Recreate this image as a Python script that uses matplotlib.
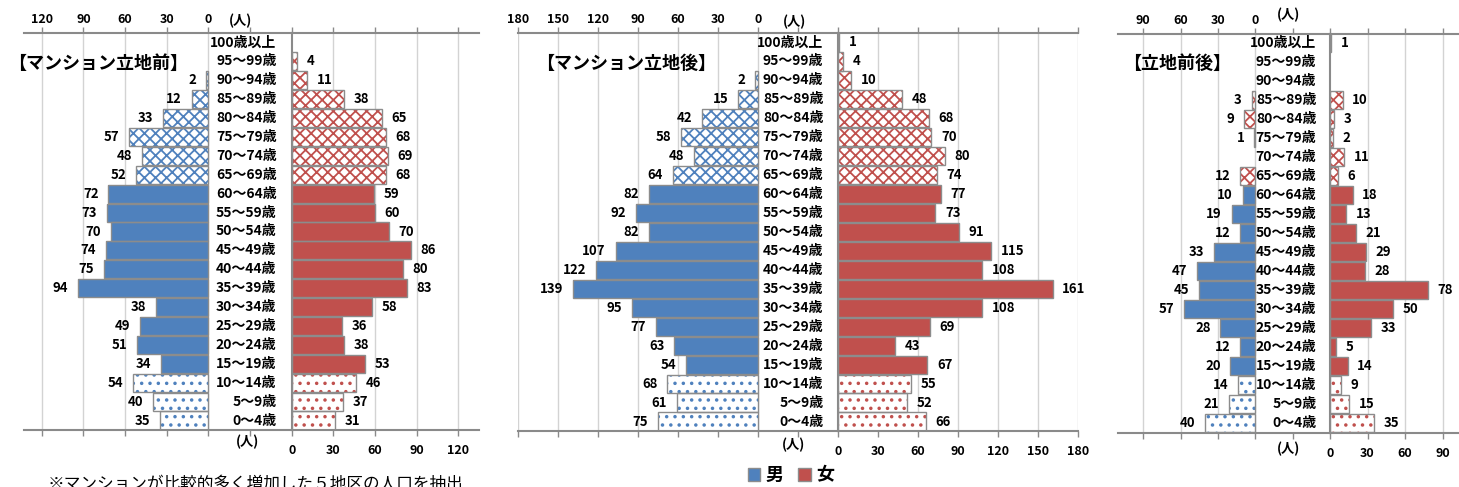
import matplotlib
matplotlib.use("Agg")
import matplotlib.pyplot as plt
from matplotlib.patches import Patch

plt.rcParams["font.family"] = ["Noto Sans CJK JP", "DejaVu Sans"]
plt.rcParams["hatch.linewidth"] = 1.3

W, H = 1459, 487

ages = ["100歳以上", "95～99歳", "90～94歳", "85～89歳", "80～84歳", "75～79歳",
        "70～74歳", "65～69歳", "60～64歳", "55～59歳", "50～54歳", "45～49歳",
        "40～44歳", "35～39歳", "30～34歳", "25～29歳", "20～24歳", "15～19歳",
        "10～14歳", "5～9歳", "0～4歳"]

# population by age group, oldest first
before_male = [0, 0, 2, 12, 33, 57, 48, 52, 72, 73, 70, 74, 75, 94, 38, 49, 51, 34, 54, 40, 35]
before_female = [0, 4, 11, 38, 65, 68, 69, 68, 59, 60, 70, 86, 80, 83, 58, 36, 38, 53, 46, 37, 31]
after_male = [0, 0, 2, 15, 42, 58, 48, 64, 82, 92, 82, 107, 122, 139, 95, 77, 63, 54, 68, 61, 75]
after_female = [1, 4, 10, 48, 68, 70, 80, 74, 77, 73, 91, 115, 108, 161, 108, 69, 43, 67, 55, 52, 66]
diff_male = [0, 0, 0, 3, 9, 1, 0, 12, 10, 19, 12, 33, 47, 45, 57, 28, 12, 20, 14, 21, 40]
diff_female = [1, 0, 0, 10, 3, 2, 11, 6, 18, 13, 21, 29, 28, 78, 50, 33, 5, 14, 9, 15, 35]

titles = ["【マンション立地前】", "【マンション立地後】", "【立地前後】"]

BLUE = "#4F81BD"
RED = "#C0504D"
EDGE = "#8C8C8C"
GRID = "#D3D3D3"
AXIS = "#8A8A8A"

fig = plt.figure(figsize=(W / 100, H / 100), dpi=100)


def px_axes(x0, x1, y0, y1):
    return fig.add_axes([x0 / W, 1 - y1 / H, (x1 - x0) / W, (y1 - y0) / H])


def draw_side(ax, vals, male, elder_col, solid_col, child_col):
    n = len(vals)
    for i, v in enumerate(vals):
        if v == 0:
            continue
        y = n - 1 - i
        if i < 8:
            face, hatch, hc = "white", "xxx", elder_col
        elif i >= n - 3:
            face, hatch, hc = "white", "..", child_col
        else:
            face, hatch, hc = solid_col, None, solid_col
        ax.barh(y, v, height=0.96, color=face, edgecolor=hc, hatch=hatch, lw=0, zorder=2)
        ax.barh(y, v, height=0.96, fill=False, edgecolor=EDGE, lw=1.0, zorder=3)
        ax.annotate(str(v), (v, y), xytext=(-7 if male else 7, 0), textcoords="offset points",
                    ha="right" if male else "left", va="center",
                    fontsize=9.5, fontweight="bold", zorder=4)


def panel(male, female, x0, xmid, x1, y0, y1, mmax, fmax, mticks, fticks,
          male_elder_col, title, title_x, unit_top, unit_bot):
    n = len(male)
    axm = px_axes(x0, xmid, y0, y1)
    axf = px_axes(xmid, x1, y0, y1)
    axm.set_xlim(mmax, -60)
    axf.set_xlim(0, fmax)
    for ax in (axm, axf):
        ax.set_ylim(-0.5, n - 0.5)
        ax.set_yticks([])
        ax.patch.set_alpha(0)
        for s in ("top", "bottom"):
            ax.spines[s].set_color(AXIS)
            ax.spines[s].set_linewidth(1.5)
        ax.spines["right"].set_visible(False)
        ax.tick_params(axis="x", top=True, bottom=True, direction="out", length=4,
                       color=AXIS, width=1, labelsize=9)
    axm.spines["left"].set_visible(False)
    axf.spines["left"].set_color(AXIS)
    axf.spines["left"].set_linewidth(1.5)

    for t in mticks:
        axm.axvline(t, color=GRID, lw=1, zorder=1)
    for t in fticks[1:]:
        axf.axvline(t, color=GRID, lw=1, zorder=1)

    axm.set_xticks(list(mticks) + [-30])
    axm.set_xticklabels([str(t) for t in mticks] + [""], fontweight="bold")
    axm.tick_params(axis="x", labeltop=True, labelbottom=False, pad=1)
    axf.set_xticks(fticks)
    axf.set_xticklabels([str(t) for t in fticks], fontweight="bold")
    axf.tick_params(axis="x", labeltop=False, labelbottom=True, pad=6)

    draw_side(axm, male, True, male_elder_col, BLUE, BLUE)
    draw_side(axf, female, False, RED, RED, RED)

    for i, lab in enumerate(ages):
        axm.text(-49, n - 1 - i, lab, ha="right", va="center", fontsize=10,
                 fontweight="bold", zorder=5)

    fig.text(title_x / W, 1 - 63 / H, title, ha="left", va="center",
             fontsize=13, fontweight="bold")
    fig.text(unit_top[0] / W, 1 - unit_top[1] / H, "(人)", ha="center", va="center",
             fontsize=9.5, fontweight="bold")
    fig.text(unit_bot[0] / W, 1 - unit_bot[1] / H, "(人)", ha="center", va="center",
             fontsize=9.5, fontweight="bold")


panel(before_male, before_female, 24, 291.7, 479, 33, 430, 132.7, 134.9,
      range(120, -1, -30), list(range(0, 121, 30)), BLUE, titles[0], 8,
      (240, 21), (248, 442))
panel(after_male, after_female, 518.4, 837.9, 1077.9, 33, 431, 180, 180,
      range(180, -1, -30), list(range(0, 181, 30)), BLUE, titles[1], 536,
      (794, 22), (793, 445))
panel(diff_male, diff_female, 1118.3, 1330, 1459, 33.5, 432.7, 110, 103.2,
      range(90, -1, -30), list(range(0, 91, 30)), RED, titles[2], 1123,
      (1288, 15), (1288, 449))

handles = [Patch(facecolor=BLUE, edgecolor=EDGE), Patch(facecolor=RED, edgecolor=EDGE)]
fig.legend(handles, ["男", "女"], loc="center", bbox_to_anchor=(791 / W, 1 - 475 / H),
           ncol=2, frameon=False, prop={"size": 13, "weight": "bold"},
           handlelength=0.7, handleheight=0.7, handletextpad=0.3, columnspacing=0.8)

fig.text(48 / W, 1 - 476 / H, "※マンションが比較的多く増加した５地区の人口を抽出",
         ha="left", va="top", fontsize=12)

fig.savefig("out.png", dpi=100)
